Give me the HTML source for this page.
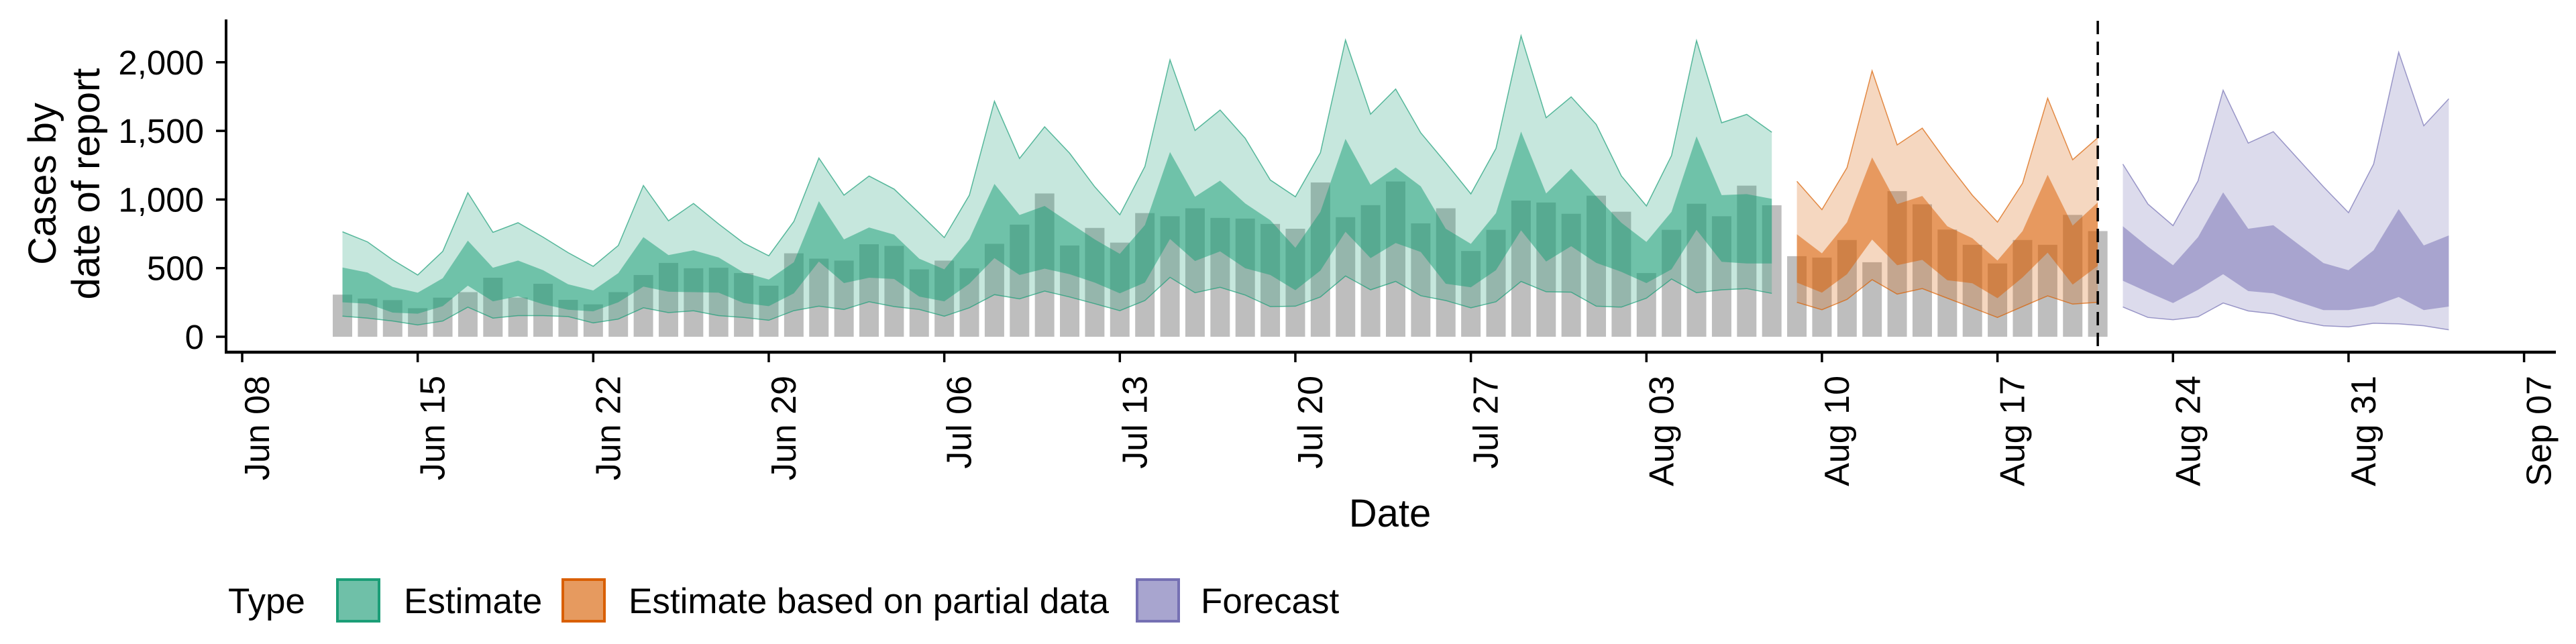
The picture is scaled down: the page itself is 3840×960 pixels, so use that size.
<!DOCTYPE html>
<html><head><meta charset="utf-8"><style>
html,body{margin:0;padding:0;background:#fff;}
svg{display:block;font-family:"Liberation Sans",Arial,sans-serif;}
</style></head><body>
<svg id="chart" width="3840" height="960" viewBox="0 0 3840 960" xmlns="http://www.w3.org/2000/svg">
<g id="bars"></g>
<g id="bands"></g>
<g id="axes"></g>
<text transform="translate(83,274) rotate(-90)" text-anchor="middle" font-size="58">Cases by</text>
<text transform="translate(148,274) rotate(-90)" text-anchor="middle" font-size="58">date of report</text>
<text x="2072" y="785" text-anchor="middle" font-size="58">Date</text>
<g font-size="53">
<text x="340" y="914">Type</text>
<rect x="503" y="864" width="62" height="62" fill="#6fc0a8" stroke="#1b9e77" stroke-width="4"/>
<text x="602" y="914">Estimate</text>
<rect x="839" y="864" width="62" height="62" fill="#e69a5f" stroke="#d95f02" stroke-width="4"/>
<text x="937" y="914">Estimate based on partial data</text>
<rect x="1695" y="864" width="62" height="62" fill="#a8a5cf" stroke="#7570b3" stroke-width="4"/>
<text x="1790" y="914">Forecast</text>
</g>
</svg>
<script>
// day index 0 = Jun 08
const barStart = 4;
const barValues = [307,278,267,208,285,325,430,286,386,269,236,325,450,538,499,503,464,372,608,569,555,674,
662,491,555,499,677,817,1044,665,793,686,901,878,936,866,861,822,787,1124,871,959,1131,826,936,625,779,992,978,896,1028,911,464,779,969,878,
1101,958,587,577,705,543,1061,965,781,670,534,705,670,888,770];

const estStart = 4;
const estHi90 = [765,691,560,450,622,1049,761,831,726,613,513,665,1102,845,971,822,683,590,840,1302,1032,1171,
1076,901,723,1032,1716,1299,1530,1337,1093,889,1241,2018,1503,1652,1446,1142,1020,1341,2162,1622,1805,1486,1268,1041,1372,2193,1596,1748,1547,1172,953,1320,2158,1559,1620,1490];
const estHi50 = [505,468,363,321,426,700,503,555,485,382,337,464,726,595,630,578,468,417,543,988,709,796,
744,569,491,712,1114,887,953,831,709,604,814,1346,1020,1138,971,849,648,910,1442,1107,1233,1096,787,677,901,1495,1044,1224,1023,831,691,910,1460,1032,1039,1005];
const estLo50 = [251,241,176,168,223,372,258,295,237,197,185,251,365,328,325,321,246,223,316,548,391,430,
421,293,258,386,573,450,496,456,395,316,395,712,552,622,499,450,339,482,765,573,683,618,386,360,485,775,548,660,538,473,391,491,779,546,534,534];
const estLo90 = [150,136,115,86,115,216,136,154,154,147,101,129,211,176,189,154,141,120,190,223,199,255,
220,199,150,211,307,276,333,290,241,190,264,433,321,360,304,220,223,290,443,342,403,299,264,211,255,403,328,325,223,216,281,421,321,342,351,316];

const partStart = 62;
const partHi90 = [1133,926,1232,1938,1398,1520,1267,1031,836,1119,1738,1290,1450];
const partHi50 = [747,608,834,1307,967,1026,805,718,555,770,1180,810,979];
const partLo50 = [395,321,456,708,521,560,412,390,281,432,613,380,516];
const partLo90 = [251,197,272,416,311,351,281,211,141,220,298,238,251];

const fcStart = 75;
const fcHi90 = [1258,967,810,1136,1796,1411,1494,1293,1093,904,1258,2073,1537,1734];
const fcHi50 = [805,656,521,726,1052,787,813,674,537,485,630,930,665,738];
const fcLo50 = [408,325,246,342,456,333,316,254,194,194,223,290,194,220];
const fcLo90 = [217,141,124,146,246,188,167,115,80,72,98,94,80,51];

const yTicks = [0,500,1000,1500,2000];
const yTickLabels = ["0","500","1,000","1,500","2,000"];
const xTickLabels = ["Jun 08","Jun 15","Jun 22","Jun 29","Jul 06","Jul 13","Jul 20","Jul 27","Aug 03","Aug 10","Aug 17","Aug 24","Aug 31","Sep 07"];
const dataCutoffDay = 74;

const NS = "http://www.w3.org/2000/svg";
function X(d){ return 361 + d*37.38; }
function Y(v){ return 502 - v*0.2046; }
function mk(tag, attrs, parent){
  const e = document.createElementNS(NS, tag);
  for (const k in attrs) e.setAttribute(k, attrs[k]);
  parent.appendChild(e);
  return e;
}
const barsG = document.getElementById('bars');
barValues.forEach((v,i)=>{
  const d = barStart + i;
  const r = mk('rect', {x: X(d)-14.5, y: Y(v), width: 29, height: Y(0)-Y(v), fill: '#bebebe'}, barsG);
  
  
});

const bandsG = document.getElementById('bands');
function band(start, lo, hi, color, op, name, outline){
  const top = hi.map((v,i)=>X(start+i).toFixed(1)+','+Y(v).toFixed(1));
  const bot = lo.map((v,i)=>X(start+i).toFixed(1)+','+Y(v).toFixed(1)).reverse();
  const p = mk('polygon', {points: top.concat(bot).join(' '), fill: color, 'fill-opacity': op, stroke: 'none'}, bandsG);
  
  
  if (outline){
    const l1 = mk('polyline', {points: top.join(' '), fill: 'none', stroke: color, 'stroke-width': 1.5, 'stroke-opacity': 0.7}, bandsG);
    
    
    const l2 = mk('polyline', {points: bot.join(' '), fill: 'none', stroke: color, 'stroke-width': 1.5, 'stroke-opacity': 0.7}, bandsG);
    
    
  }
}
band(estStart, estLo90, estHi90, '#1b9e77', 0.25, 'estimate-90-band', true);
band(estStart, estLo50, estHi50, '#1b9e77', 0.51, 'estimate-50-band', false);
band(partStart, partLo90, partHi90, '#d95f02', 0.25, 'partial-90-band', true);
band(partStart, partLo50, partHi50, '#d95f02', 0.51, 'partial-50-band', false);
band(fcStart, fcLo90, fcHi90, '#7570b3', 0.25, 'forecast-90-band', true);
band(fcStart, fcLo50, fcHi50, '#7570b3', 0.51, 'forecast-50-band', false);

const axG = document.getElementById('axes');
const cut = mk('line', {x1: X(dataCutoffDay), x2: X(dataCutoffDay), y1: 31, y2: 524, stroke: '#000', 'stroke-width': 3.5, 'stroke-dasharray': '20,11'}, axG);


const ya = mk('line', {x1: 337, x2: 337, y1: 29, y2: 527, stroke: '#000', 'stroke-width': 4}, axG);


const xa = mk('line', {x1: 335, x2: 3810, y1: 525, y2: 525, stroke: '#000', 'stroke-width': 4.5}, axG);


yTicks.forEach((v,i)=>{
  const t = mk('line', {x1: 322, x2: 337, y1: Y(v), y2: Y(v), stroke: '#000', 'stroke-width': 3.5}, axG);
  
  
  const tx = mk('text', {x: 304, y: Y(v)+18, 'text-anchor': 'end', 'font-size': 51, fill: '#000'}, axG);
  tx.textContent = yTickLabels[i];
  
  
});
xTickLabels.forEach((lab,i)=>{
  const d = i*7;
  const t = mk('line', {x1: X(d), x2: X(d), y1: 526, y2: 540, stroke: '#000', 'stroke-width': 3.5}, axG);
  
  
  const tx = mk('text', {transform: 'translate(' + (X(d)+40).toFixed(1) + ',560) rotate(-90)', 'text-anchor': 'end', 'font-size': 52, fill: '#000'}, axG);
  tx.textContent = lab;
  
  
});
</script>
</body></html>
